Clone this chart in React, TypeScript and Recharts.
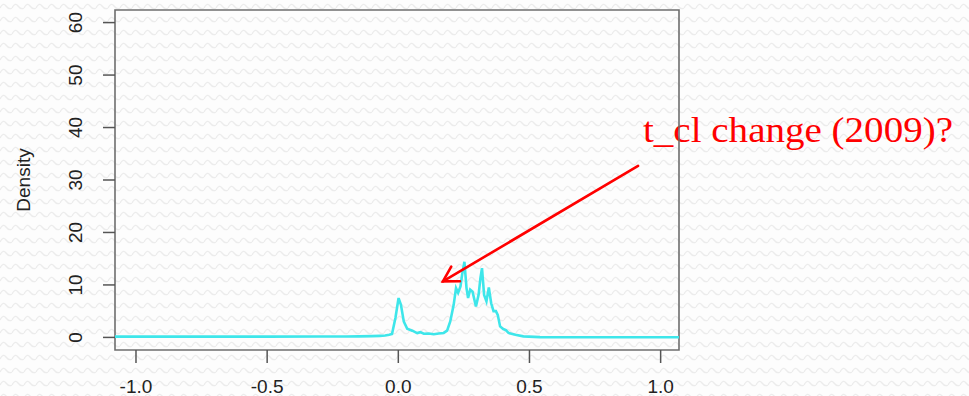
import React from 'react';
import { LineChart, Line, XAxis, YAxis, ReferenceArea, ReferenceLine } from 'recharts';

// ---- data ----
const xValues = [
  -1.08, -0.8, -0.5, -0.3, -0.2, -0.15, -0.1, -0.07, -0.05, -0.035, -0.024, -0.011,
  0.001, 0.01, 0.021, 0.034, 0.053, 0.072, 0.084, 0.097, 0.116, 0.135, 0.154, 0.173,
  0.186, 0.198, 0.211, 0.22, 0.228, 0.237, 0.243, 0.252, 0.26, 0.266, 0.274, 0.283,
  0.296, 0.306, 0.313, 0.319, 0.327, 0.336, 0.345, 0.354, 0.363, 0.372, 0.379, 0.388,
  0.4, 0.41, 0.42, 0.446, 0.477, 0.54, 0.7, 0.9, 1.07,
];
const densityValues = [
  0.15, 0.15, 0.15, 0.17, 0.18, 0.2, 0.25, 0.3, 0.35, 0.5, 0.65, 3.7,
  7.5, 6.2, 3.0, 1.65, 1.28, 0.83, 1.0, 0.7, 0.75, 0.6, 0.75, 0.85,
  1.28, 3.05, 6.2, 9.4, 8.5, 9.7, 11.9, 14.4, 9.4, 7.5, 9.1, 8.7,
  5.9, 8.1, 11.3, 13.2, 8.1, 6.9, 9.5, 6.5, 5.0, 5.0, 4.3, 2.1,
  1.6, 1.4, 0.85, 0.5, 0.2, 0.05, 0.02, 0.02, 0.02,
];
const xTicks = [-1, -0.5, 0, 0.5, 1];
const yTicks = [0, 10, 20, 30, 40, 50, 60];
const xDomain = [-1.08, 1.07];
const yDomain = [-2.4, 62.4];
const yLabel = 'Density';
const annotationText = 't_cl change (2009)?';
const arrowFrom = { x: 0.914, y: 32.7 };
const arrowTo = { x: 0.17, y: 10.67 };

const data = xValues.map((x, i) => ({ x, density: densityValues[i] }));

const AXIS_FONT = '"Liberation Sans", Arial, Helvetica, sans-serif';
const patternSvg =
  "<svg xmlns='http://www.w3.org/2000/svg' width='12' height='13'>" +
  "<rect width='12' height='13' fill='%23fdfdfd'/>" +
  "<path d='M0 8 Q3 2 6 6 T12 8' fill='none' stroke='%23ececec' stroke-width='1.3'/></svg>";

const YTick = (props: any) => {
  const { x, y, payload } = props;
  const cx = x - 19;
  return (
    <text
      x={cx}
      y={y}
      transform={`rotate(-90, ${cx}, ${y})`}
      textAnchor="middle"
      fontSize={19}
      fontFamily={AXIS_FONT}
      fill="#222"
    >
      {payload.value}
    </text>
  );
};

const XTick = (props: any) => {
  const { x, y, payload } = props;
  return (
    <text x={x} y={y + 28} textAnchor="middle" fontSize={19} fontFamily={AXIS_FONT} fill="#222">
      {Number(payload.value).toFixed(1)}
    </text>
  );
};

const ArrowShape = (props: any) => {
  const { x1, y1, x2, y2 } = props;
  if ([x1, y1, x2, y2].some((v) => typeof v !== 'number' || isNaN(v))) return <g />;
  const dx = x1 - x2;
  const dy = y1 - y2;
  const len = Math.sqrt(dx * dx + dy * dy) || 1;
  const ux = dx / len;
  const uy = dy / len;
  const head = 17;
  const a = Math.PI / 6;
  const rot = (ang: number) => ({
    x: x2 + head * (ux * Math.cos(ang) - uy * Math.sin(ang)),
    y: y2 + head * (ux * Math.sin(ang) + uy * Math.cos(ang)),
  });
  const p1 = rot(a);
  const p2 = rot(-a);
  return (
    <g>
      <line x1={x1} y1={y1} x2={x2} y2={y2} stroke="#ff0000" strokeWidth={2.6} strokeLinecap="round" />
      <polyline
        points={`${p1.x},${p1.y} ${x2},${y2} ${p2.x},${p2.y}`}
        fill="none"
        stroke="#ff0000"
        strokeWidth={2.6}
        strokeLinecap="round"
        strokeLinejoin="miter"
      />
    </g>
  );
};

const DensityLabel = (props: any) => {
  const vb = props.viewBox || { x: 0, y: 10, width: 115, height: 340 };
  const cx = vb.x + 30;
  const cy = vb.y + vb.height / 2;
  return (
    <text
      x={cx}
      y={cy}
      transform={`rotate(-90, ${cx}, ${cy})`}
      textAnchor="middle"
      fontSize={19}
      fontFamily={AXIS_FONT}
      fill="#222"
    >
      {yLabel}
    </text>
  );
};

export default function App() {
  return (
    <div
      style={{
        position: 'absolute',
        left: 0,
        top: 0,
        width: 969,
        height: 396,
        overflow: 'hidden',
        backgroundColor: '#fdfdfd',
        backgroundImage: `url("data:image/svg+xml;utf8,${patternSvg}")`,
        backgroundRepeat: 'repeat',
      }}
    >
      <svg width={969} height={396} style={{ position: 'absolute', left: 0, top: 0 }}>
        <text
          x={643}
          y={142}
          fontSize={35}
          fontFamily='"Liberation Serif", "Times New Roman", serif'
          fill="#ff0000"
          textLength={310}
          lengthAdjust="spacingAndGlyphs"
        >
          {annotationText}
        </text>
      </svg>
      <div style={{ position: 'absolute', left: 0, top: 0 }}>
        <LineChart
          width={969}
          height={396}
          data={data}
          margin={{ top: 10, right: 290, bottom: 0, left: 0 }}
        >
          <XAxis
            dataKey="x"
            type="number"
            domain={xDomain}
            ticks={xTicks}
            allowDataOverflow
            axisLine={false}
            tickSize={13}
            tickLine={{ stroke: '#555', strokeWidth: 1.5 }}
            tick={<XTick />}
            height={46}
            interval={0}
          />
          <YAxis
            type="number"
            domain={yDomain}
            ticks={yTicks}
            allowDataOverflow
            axisLine={false}
            tickSize={12}
            tickLine={{ stroke: '#555', strokeWidth: 1.5 }}
            tick={<YTick />}
            width={115}
            interval={0}
            label={{ content: <DensityLabel /> }}
          />
          <Line
            type="linear"
            dataKey="density"
            stroke="#3ee6ea"
            strokeWidth={2.6}
            dot={false}
            isAnimationActive={false}
          />
          <ReferenceArea
            x1={xDomain[0]}
            x2={xDomain[1]}
            y1={yDomain[0]}
            y2={yDomain[1]}
            fill="none"
            fillOpacity={0}
            stroke="#6e6e6e"
            strokeWidth={1.6}
            ifOverflow="visible"
          />
          <ReferenceLine
            segment={[arrowFrom, arrowTo]}
            ifOverflow="visible"
            shape={<ArrowShape />}
          />
        </LineChart>
      </div>
    </div>
  );
}
